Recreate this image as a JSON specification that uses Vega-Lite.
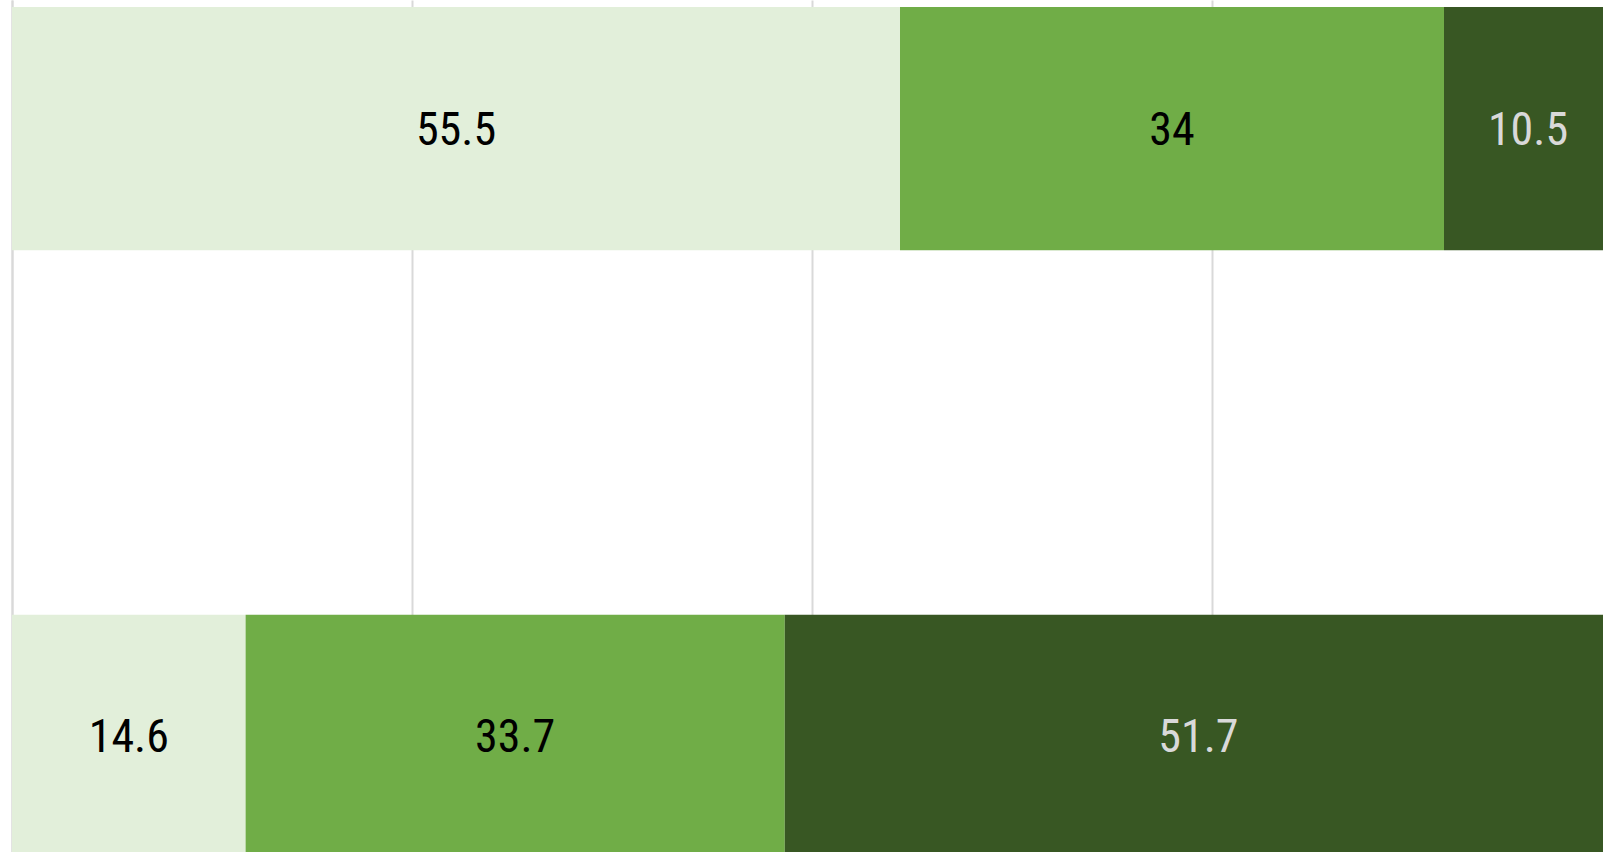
{
  "$schema": "https://vega.github.io/schema/vega-lite/v6.json",
  "width": 1600,
  "height": 865,
  "autosize": {"type": "none"},
  "padding": {"left": 12, "top": 0, "right": 0, "bottom": 0},
  "background": "white",
  "config": {"view": {"stroke": null}},
  "data": {
    "values": [
      {"group": "A", "level": "Low", "rank": 1, "value": 55.5},
      {"group": "A", "level": "Medium", "rank": 2, "value": 34},
      {"group": "A", "level": "High", "rank": 3, "value": 10.5},
      {"group": "B", "level": "Low", "rank": 1, "value": 14.6},
      {"group": "B", "level": "Medium", "rank": 2, "value": 33.7},
      {"group": "B", "level": "High", "rank": 3, "value": 51.7}
    ]
  },
  "transform": [
    {"stack": "value", "groupby": ["group"], "sort": [{"field": "rank"}], "as": ["v0", "v1"]},
    {"calculate": "(datum.v0 + datum.v1) / 2", "as": "mid"}
  ],
  "encoding": {
    "y": {
      "field": "group",
      "type": "nominal",
      "sort": ["A", "B"],
      "scale": {"paddingInner": 0.6, "paddingOuter": 0.0115},
      "axis": {"title": null, "labels": false, "ticks": false, "domain": true, "domainColor": "#d9d9d9", "domainWidth": 2, "grid": false}
    }
  },
  "layer": [
    {
      "mark": {"type": "bar"},
      "encoding": {
        "x": {
          "field": "v0",
          "type": "quantitative",
          "scale": {"domain": [0, 100], "nice": false},
          "axis": {"title": null, "labels": false, "ticks": false, "domain": false, "grid": true, "gridColor": "#d9d9d9", "gridWidth": 2, "values": [0, 25, 50, 75, 100]}
        },
        "x2": {"field": "v1"},
        "color": {
          "field": "level",
          "type": "nominal",
          "scale": {"domain": ["Low", "Medium", "High"], "range": ["#E2EFDA", "#70AD47", "#385723"]},
          "legend": null
        }
      }
    },
    {
      "mark": {"type": "text", "align": "center", "baseline": "middle", "dy": 2, "font": "Liberation Sans Narrow, Arial Narrow, Roboto Condensed, sans-serif", "fontSize": 46},
      "encoding": {
        "x": {"field": "mid", "type": "quantitative"},
        "text": {"field": "value", "type": "quantitative"},
        "color": {
          "condition": {"test": "datum.level === 'High'", "value": "#d9d9d9"},
          "value": "#000000"
        }
      }
    }
  ]
}
